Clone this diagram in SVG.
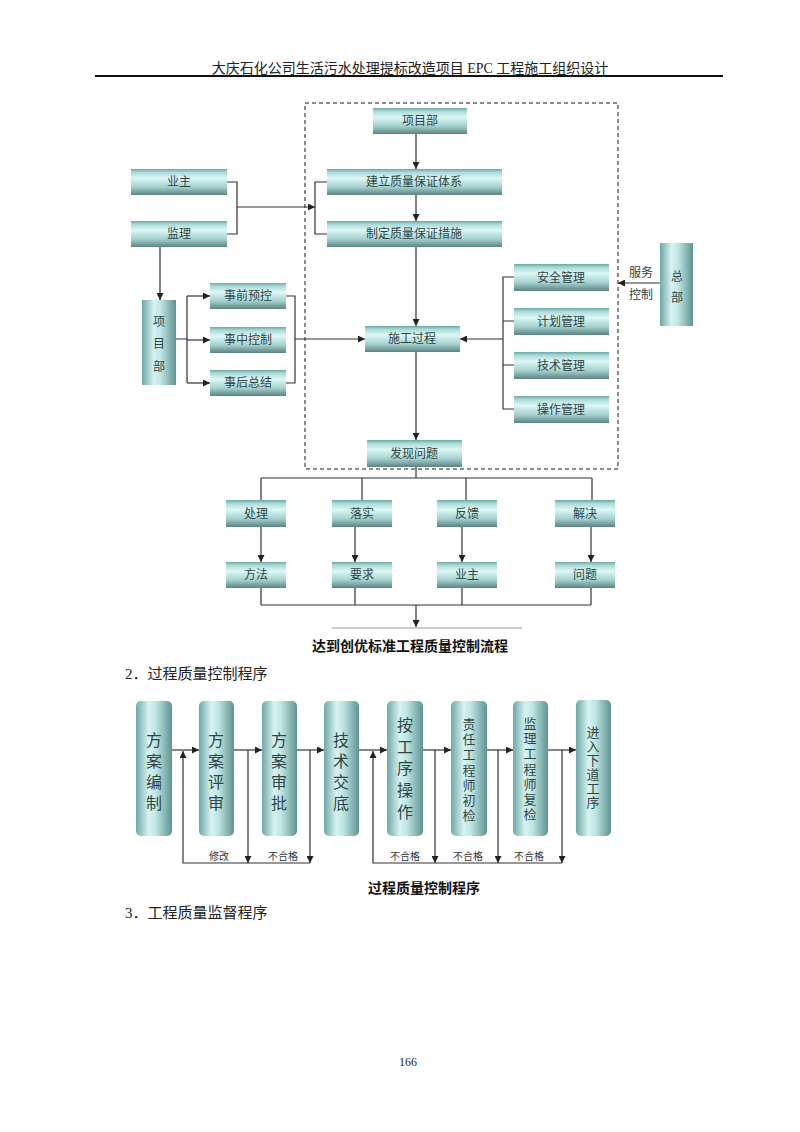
<svg xmlns="http://www.w3.org/2000/svg" width="800" height="1132" viewBox="0 0 800 1132">
<defs>
<linearGradient id="gh" x1="0" y1="0" x2="0" y2="1">
<stop offset="0" stop-color="#6ea6a4"/><stop offset="0.12" stop-color="#a8d8d6"/><stop offset="0.35" stop-color="#dcf8f6"/><stop offset="0.7" stop-color="#a3d0ce"/><stop offset="1" stop-color="#5b8282"/>
</linearGradient>
<linearGradient id="gv" x1="0" y1="0" x2="1" y2="0">
<stop offset="0" stop-color="#6ea8a6"/><stop offset="0.35" stop-color="#d6f3f1"/><stop offset="0.55" stop-color="#bfe6e3"/><stop offset="1" stop-color="#5f9391"/>
</linearGradient>
<marker id="ar" viewBox="0 0 10 10" refX="10" refY="5" markerWidth="7" markerHeight="7" markerUnits="userSpaceOnUse" orient="auto">
<path d="M0,0 L10,5 L0,10 z" fill="#222"/>
</marker>
<style>
.hb{fill:url(#gh)}
.vb{fill:url(#gv)}
.lb{font-family:"Liberation Serif","Noto Sans CJK SC",serif;font-size:12px;fill:#2f4545;text-anchor:middle}
.vl{font-family:"Liberation Serif","Noto Sans CJK SC",serif;font-size:16px;fill:#2f4545;text-anchor:middle}
.vs{font-family:"Liberation Serif","Noto Sans CJK SC",serif;font-size:13px;fill:#2f4545;text-anchor:middle}
.sm{font-family:"Liberation Serif","Noto Sans CJK SC",serif;font-size:10px;fill:#333;text-anchor:middle}
.ln{fill:none;stroke:#333;stroke-width:1.2}
.la{fill:none;stroke:#333;stroke-width:1.2;marker-end:url(#ar)}
.pg{font-family:"Liberation Serif","Noto Sans CJK SC",serif;fill:#222}
.cap{font-family:"Liberation Sans","Noto Sans CJK SC",sans-serif;font-size:14px;font-weight:bold;fill:#111;text-anchor:middle}
</style>
</defs>
<rect width="800" height="1132" fill="#fff"/>
<g id="header">
<text class="pg" x="410" y="73" font-size="14" text-anchor="middle">大庆石化公司生活污水处理提标改造项目 EPC 工程施工组织设计</text>
<line x1="95" y1="76" x2="723" y2="76" stroke="#111" stroke-width="2"/>
</g>
<rect id="dashed-box" x="305" y="103" width="313" height="366" fill="none" stroke="#666" stroke-width="1.5" stroke-dasharray="4,3"/>
<g id="connectors">
<path class="la" d="M416,134 V169"/>
<path class="la" d="M416,195 V221"/>
<path class="la" d="M416,247 V326"/>
<path class="ln" d="M227,182 H237 V234 H227"/>
<path class="la" d="M237,207 H315"/>
<path class="ln" d="M327,182 H315 V234 H327"/>
<path class="la" d="M160,247 V300"/>
<path class="ln" d="M176,339 H187 M187,296 V383"/>
<path class="la" d="M187,296 H210"/>
<path class="la" d="M187,340 H210"/>
<path class="la" d="M187,383 H210"/>
<path class="ln" d="M286,296 H295 V383 H286"/>
<path class="la" d="M295,339 H365"/>
<path class="ln" d="M514,277 H503 V409 H514 M503,321 H514 M503,365 H514"/>
<path class="la" d="M503,339 H460"/>
<path class="la" d="M660,283 H618"/>
<path class="la" d="M416,352 V440"/>
<path class="ln" d="M416,467 V478 M261,478 H592 M261,478 V500 M362,478 V500 M466,478 V500 M592,478 V500"/>
<path class="la" d="M261,527 V562"/>
<path class="la" d="M355,527 V562"/>
<path class="la" d="M462,527 V562"/>
<path class="la" d="M591,527 V562"/>
<path class="ln" d="M261,588 V605 M355,588 V605 M462,588 V605 M591,588 V605 M261,605 H591"/>
<path class="la" d="M416,605 V627"/>
<line x1="332" y1="628" x2="522" y2="628" stroke="#999" stroke-width="1"/>
<path class="la" d="M172,750 H199"/>
<path class="la" d="M234,750 H262"/>
<path class="la" d="M297,750 H324"/>
<path class="la" d="M359,750 H387"/>
<path class="la" d="M423,750 H451"/>
<path class="la" d="M487,750 H513"/>
<path class="la" d="M548,750 H576"/>
<path class="la" d="M248,750 V863"/>
<path class="la" d="M310,750 V863"/>
<path class="la" d="M310,863 H183 V751"/>
<path class="la" d="M435,750 V863"/>
<path class="la" d="M498,750 V863"/>
<path class="la" d="M562,750 V863"/>
<path class="la" d="M562,863 H373 V751"/>
</g>
<g id="n-xmb"><rect class="hb" x="373" y="108" width="94" height="26"/><text class="lb" x="420" y="125">项目部</text></g>
<g id="n-jl"><rect class="hb" x="327" y="169" width="175" height="26"/><text class="lb" x="414" y="186">建立质量保证体系</text></g>
<g id="n-zd"><rect class="hb" x="327" y="221" width="175" height="26"/><text class="lb" x="414" y="238">制定质量保证措施</text></g>
<g id="n-yz"><rect class="hb" x="131" y="169" width="96" height="26"/><text class="lb" x="179" y="186">业主</text></g>
<g id="n-jianli"><rect class="hb" x="131" y="221" width="96" height="26"/><text class="lb" x="179" y="238">监理</text></g>
<g id="n-xmb2"><rect class="vb" x="142" y="300" width="34" height="85"/><text class="lb" x="159" y="326">项</text><text class="lb" x="159" y="348">目</text><text class="lb" x="159" y="371">部</text></g>
<g id="n-sq"><rect class="hb" x="210" y="283" width="76" height="26"/><text class="lb" x="248" y="300">事前预控</text></g>
<g id="n-sz"><rect class="hb" x="210" y="327" width="76" height="26"/><text class="lb" x="248" y="344">事中控制</text></g>
<g id="n-sh"><rect class="hb" x="210" y="370" width="76" height="26"/><text class="lb" x="248" y="387">事后总结</text></g>
<g id="n-sg"><rect class="hb" x="365" y="326" width="95" height="26"/><text class="lb" x="412" y="343">施工过程</text></g>
<g id="n-aq"><rect class="hb" x="514" y="264" width="95" height="27"/><text class="lb" x="561" y="282">安全管理</text></g>
<g id="n-jh"><rect class="hb" x="514" y="308" width="95" height="27"/><text class="lb" x="561" y="326">计划管理</text></g>
<g id="n-js"><rect class="hb" x="514" y="352" width="95" height="27"/><text class="lb" x="561" y="370">技术管理</text></g>
<g id="n-cz"><rect class="hb" x="514" y="396" width="95" height="27"/><text class="lb" x="561" y="414">操作管理</text></g>
<g id="n-zb"><rect class="vb" x="660" y="243" width="33" height="83"/><text class="lb" x="677" y="281">总</text><text class="lb" x="677" y="302">部</text></g>
<g id="lbl-fw"><text class="lb" x="641" y="277">服务</text><text class="lb" x="641" y="299">控制</text></g>
<g id="n-fx"><rect class="hb" x="367" y="440" width="95" height="27"/><text class="lb" x="414" y="458">发现问题</text></g>
<g id="n-cl"><rect class="hb" x="226" y="500" width="60" height="27"/><text class="lb" x="256" y="518">处理</text></g>
<g id="n-ls"><rect class="hb" x="332" y="500" width="60" height="27"/><text class="lb" x="362" y="518">落实</text></g>
<g id="n-fk"><rect class="hb" x="437" y="500" width="60" height="27"/><text class="lb" x="467" y="518">反馈</text></g>
<g id="n-jj"><rect class="hb" x="555" y="500" width="60" height="27"/><text class="lb" x="585" y="518">解决</text></g>
<g id="n-ff"><rect class="hb" x="226" y="562" width="60" height="26"/><text class="lb" x="256" y="579">方法</text></g>
<g id="n-yq"><rect class="hb" x="332" y="562" width="60" height="26"/><text class="lb" x="362" y="579">要求</text></g>
<g id="n-yz2"><rect class="hb" x="437" y="562" width="60" height="26"/><text class="lb" x="467" y="579">业主</text></g>
<g id="n-wt"><rect class="hb" x="555" y="562" width="60" height="26"/><text class="lb" x="585" y="579">问题</text></g>
<text class="cap" x="410" y="651">达到创优标准工程质量控制流程</text>
<text class="pg" x="125" y="679" font-size="15">2．过程质量控制程序</text>
<g id="p-1"><rect class="vb" x="136" y="701" width="36" height="135" rx="5"/><text class="vl" x="154" y="746">方</text><text class="vl" x="154" y="767">案</text><text class="vl" x="154" y="788">编</text><text class="vl" x="154" y="809">制</text></g>
<g id="p-2"><rect class="vb" x="199" y="701" width="35" height="135" rx="5"/><text class="vl" x="216" y="746">方</text><text class="vl" x="216" y="767">案</text><text class="vl" x="216" y="788">评</text><text class="vl" x="216" y="809">审</text></g>
<g id="p-3"><rect class="vb" x="262" y="701" width="35" height="135" rx="5"/><text class="vl" x="279" y="746">方</text><text class="vl" x="279" y="767">案</text><text class="vl" x="279" y="788">审</text><text class="vl" x="279" y="809">批</text></g>
<g id="p-4"><rect class="vb" x="324" y="701" width="35" height="135" rx="5"/><text class="vl" x="341" y="746">技</text><text class="vl" x="341" y="767">术</text><text class="vl" x="341" y="788">交</text><text class="vl" x="341" y="809">底</text></g>
<g id="p-5"><rect class="vb" x="387" y="701" width="36" height="135" rx="5"/><text class="vl" x="405" y="731">按</text><text class="vl" x="405" y="753">工</text><text class="vl" x="405" y="774">序</text><text class="vl" x="405" y="796">操</text><text class="vl" x="405" y="818">作</text></g>
<g id="p-6"><rect class="vb" x="451" y="701" width="36" height="135" rx="5"/><text class="vs" x="469" y="729">责</text><text class="vs" x="469" y="744">任</text><text class="vs" x="469" y="759">工</text><text class="vs" x="469" y="775">程</text><text class="vs" x="469" y="790">师</text><text class="vs" x="469" y="805">初</text><text class="vs" x="469" y="820">检</text></g>
<g id="p-7"><rect class="vb" x="513" y="701" width="35" height="135" rx="5"/><text class="vs" x="530" y="728">监</text><text class="vs" x="530" y="743">理</text><text class="vs" x="530" y="758">工</text><text class="vs" x="530" y="774">程</text><text class="vs" x="530" y="789">师</text><text class="vs" x="530" y="804">复</text><text class="vs" x="530" y="819">检</text></g>
<g id="p-8"><rect class="vb" x="576" y="700" width="35" height="136" rx="5"/><text class="vs" x="593" y="737">进</text><text class="vs" x="593" y="751">入</text><text class="vs" x="593" y="765">下</text><text class="vs" x="593" y="779">道</text><text class="vs" x="593" y="793">工</text><text class="vs" x="593" y="807">序</text></g>
<g id="fb-labels"><text class="sm" x="219" y="860">修改</text><text class="sm" x="283" y="860">不合格</text><text class="sm" x="405" y="860">不合格</text><text class="sm" x="468" y="860">不合格</text><text class="sm" x="529" y="860">不合格</text></g>
<text class="cap" x="424" y="893">过程质量控制程序</text>
<text class="pg" x="125" y="918" font-size="15">3．工程质量监督程序</text>
<text class="pg" x="408" y="1066" font-size="12" text-anchor="middle">166</text>
</svg>
